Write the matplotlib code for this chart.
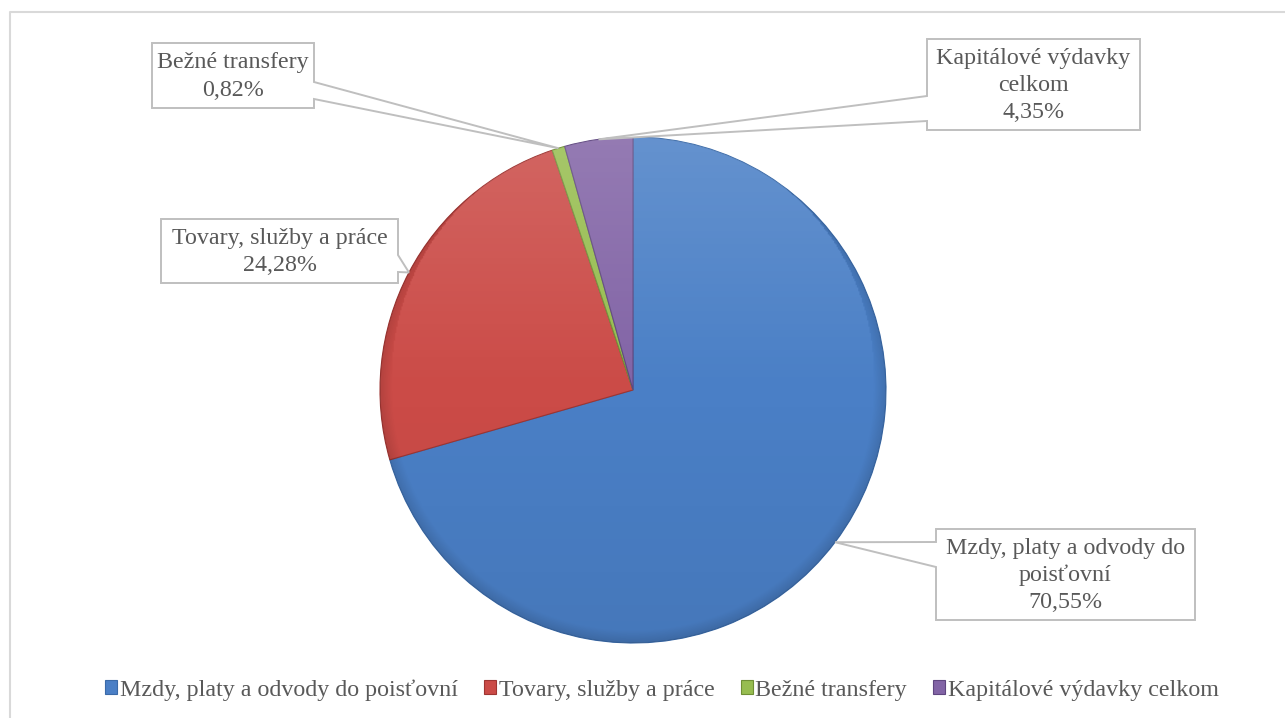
import numpy as np
import matplotlib
matplotlib.use('Agg')
import matplotlib.pyplot as plt
from matplotlib.patches import Polygon, Circle

# ---- data ----
categories = ['Mzdy, platy a odvody do poisťovní', 'Tovary, služby a práce',
              'Bežné transfery', 'Kapitálové výdavky celkom']
values = [70.55, 24.28, 0.82, 4.35]
label_texts = ['Mzdy, platy a odvody do\npoisťovní\n70,55%',
               'Tovary, služby a práce\n24,28%',
               'Bežné transfery\n0,82%',
               'Kapitálové výdavky\ncelkom\n4,35%']
colors = ['#4a7fc6', '#cb4b47', '#97bd50', '#8264a6']
edge_colors = ['#3a6aa8', '#9e3532', '#6f8f35', '#5f4680']

W, H = 1285, 718
FONT = 'Liberation Serif'
TXT = '#595959'
FS = 17.3

fig = plt.figure(figsize=(W / 100, H / 100), dpi=100)
ax = fig.add_axes([0, 0, 1, 1])


def P(x, y):
    return (x, H - y)


cx, cy, R = 633, 390, 253
wedges, _ = ax.pie(values, colors=colors, startangle=90, counterclock=False,
                   center=P(cx, cy), radius=R,
                   wedgeprops=dict(linewidth=0.8))
for w, ec in zip(wedges, edge_colors):
    w.set_edgecolor(ec)

# subtle lighting overlay (lighter top, darker rim)
n = 400
yy, xx = np.mgrid[0:n, 0:n]
u = (xx + 0.5) / n * 2 - 1
v = (yy + 0.5) / n * 2 - 1          # v=-1 at top row
r = np.sqrt(u ** 2 + v ** 2)
img = np.zeros((n, n, 4))
light = np.clip(-v, -1, 1)           # +1 at top
a_white = np.clip(light, 0, 1) * 0.15
a_black = np.clip(-light, 0, 1) * 0.06 + np.clip((r - 0.95) / 0.05, 0, 1) * 0.12
img[..., :3] = np.where((a_white > a_black)[..., None], 1.0, 0.0)
img[..., 3] = np.maximum(a_white, a_black)
pc = P(cx, cy)
im = ax.imshow(img, extent=[pc[0] - R, pc[0] + R, pc[1] - R, pc[1] + R],
               origin='upper', zorder=2, interpolation='bilinear')
im.set_clip_path(Circle(pc, R, transform=ax.transData))

# ---- callout labels ----
boxes = [(936, 529, 1195, 620), (161, 219, 398, 283),
         (152, 43, 314, 108), (927, 39, 1140, 130)]
sides = ['left', 'right', 'right', 'left']
bases = [(542, 567), (255, 272), (82, 99), (96, 121)]

for w, box, side, base, txt in zip(wedges, boxes, sides, bases, label_texts):
    mid = np.deg2rad((w.theta1 + w.theta2) / 2)
    ax_pt = (w.center[0] + w.r * np.cos(mid), w.center[1] + w.r * np.sin(mid))
    x0, y0, x1, y1 = box
    if side == 'right':
        pts = [P(x0, y0), P(x1, y0), P(x1, base[0]), ax_pt, P(x1, base[1]),
               P(x1, y1), P(x0, y1)]
    else:
        pts = [P(x0, y0), P(x1, y0), P(x1, y1), P(x0, y1), P(x0, base[1]),
               ax_pt, P(x0, base[0])]
    ax.add_patch(Polygon(pts, closed=True, facecolor='white', edgecolor='#bfbfbf',
                         linewidth=1.4, zorder=5, joinstyle='miter'))
    tx, ty = P((x0 + x1) / 2, (y0 + y1) / 2 + 1)
    ax.text(tx, ty, txt, ha='center', va='center', multialignment='center',
            fontsize=FS, color=TXT, family=FONT, linespacing=1.38, zorder=6)

# ---- legend ----
leg = ax.legend(wedges, categories, loc='center', bbox_to_anchor=(662 / W, 1 - 690 / H),
                ncol=4, frameon=False, handlelength=0.5, handleheight=0.5,
                handletextpad=0.1, columnspacing=1.1, borderaxespad=0,
                prop=dict(family=FONT, size=FS))
for t in leg.get_texts():
    t.set_color(TXT)

# ---- chart frame ----
ax.plot([10, 10, W + 10], [-10, H - 12, H - 12], color='#d9d9d9', lw=1.5, zorder=1)

ax.set_xlim(0, W)
ax.set_ylim(0, H)
ax.set_aspect('auto')
ax.axis('off')

fig.savefig('out.png', dpi=100, facecolor='white')
